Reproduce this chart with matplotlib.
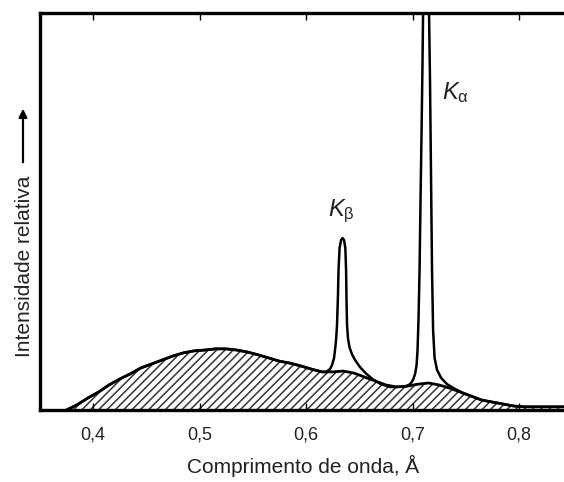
import matplotlib
matplotlib.use("Agg")
import matplotlib.pyplot as plt
from matplotlib.patches import FancyArrowPatch

plt.rcParams['font.family'] = ['Liberation Sans', 'DejaVu Sans']
plt.rcParams['mathtext.fontset'] = 'custom'
plt.rcParams['mathtext.rm'] = 'Liberation Sans'
plt.rcParams['mathtext.it'] = 'Liberation Sans:italic'
plt.rcParams['hatch.linewidth'] = 1.1
plt.rcParams['hatch.color'] = '#333333'

# continuous spectrum (hatched area)
wl_cont = [0.375, 0.385, 0.395, 0.405, 0.415, 0.425, 0.435, 0.445, 0.455, 0.465,
           0.475, 0.485, 0.495, 0.505, 0.515, 0.525, 0.535, 0.545, 0.555, 0.565,
           0.575, 0.585, 0.595, 0.605, 0.615, 0.625, 0.635, 0.645, 0.655, 0.665,
           0.675, 0.685, 0.695, 0.705, 0.715, 0.725, 0.735, 0.745, 0.755, 0.765,
           0.775, 0.785, 0.795, 0.805, 0.845]
int_cont = [0.000, 0.013, 0.030, 0.045, 0.063, 0.078, 0.091, 0.106, 0.116, 0.126,
            0.136, 0.144, 0.149, 0.151, 0.154, 0.154, 0.151, 0.146, 0.139, 0.131,
            0.123, 0.118, 0.111, 0.103, 0.096, 0.096, 0.098, 0.093, 0.083, 0.073,
            0.063, 0.058, 0.060, 0.065, 0.068, 0.063, 0.055, 0.045, 0.035, 0.025,
            0.020, 0.015, 0.010, 0.008, 0.008]

# characteristic lines K-beta and K-alpha on top of the continuum
wl_lines = [0.6188, 0.6225, 0.6244, 0.6263, 0.6272, 0.6282, 0.6291, 0.6300, 0.6305,
            0.6315, 0.6329, 0.6343, 0.6357, 0.6369, 0.6376, 0.6380, 0.6385, 0.6394,
            0.6408, 0.6432, 0.6460, 0.6507, 0.6563, 0.6629, 0.6704, 0.6789,
            0.6836, 0.6901, 0.6939, 0.6977, 0.7005, 0.7024, 0.7038, 0.7047, 0.7056,
            0.7066, 0.7075, 0.7085, 0.7094, 0.7099, 0.7103, 0.7127, 0.7150, 0.7155,
            0.7164, 0.7174, 0.7183, 0.7193, 0.7207, 0.7230, 0.7268, 0.7324, 0.7399,
            0.7474]
int_lines = [0.096, 0.103, 0.113, 0.131, 0.151, 0.176, 0.214, 0.290, 0.353,
             0.408, 0.428, 0.433, 0.428, 0.408, 0.353, 0.277, 0.214, 0.180,
             0.158, 0.140, 0.126, 0.108, 0.092, 0.077, 0.065, 0.058,
             0.058, 0.059, 0.060, 0.065, 0.076, 0.091, 0.113, 0.151, 0.227,
             0.353, 0.529, 0.705, 0.882, 1.000, 1.058, 1.083, 1.058, 1.000,
             0.831, 0.579, 0.353, 0.202, 0.131, 0.101, 0.081, 0.065, 0.053,
             0.043]

xticks = [0.4, 0.5, 0.6, 0.7, 0.8]
xticklabels = ['0,4', '0,5', '0,6', '0,7', '0,8']

# full spectrum = continuum outside the lines + the lines
wl_total = [w for w in wl_cont if w < wl_lines[0]] + wl_lines + \
           [w for w in wl_cont if w > wl_lines[-1]]
int_total = [i for w, i in zip(wl_cont, int_cont) if w < wl_lines[0]] + int_lines + \
            [i for w, i in zip(wl_cont, int_cont) if w > wl_lines[-1]]

fig = plt.figure(figsize=(5.64, 4.82), dpi=100)
ax = fig.add_axes([40/564, 72/482, 526/564, 397/482])

ax.fill_between(wl_cont, int_cont, 0, facecolor='white', edgecolor='#333333',
                hatch='////', linewidth=0)
ax.plot(wl_cont, int_cont, color='black', lw=2.0, solid_joinstyle='round')
ax.plot(wl_total, int_total, color='black', lw=1.8, solid_joinstyle='round')

ax.set_xlim(0.3502, 0.8441)
ax.set_ylim(0, 1)
ax.set_yticks([])
ax.set_xticks(xticks)
ax.set_xticklabels(xticklabels, fontsize=13, color='#222222')
ax.tick_params(axis='x', direction='in', top=True, length=5, width=1, pad=12)
for s in ax.spines.values():
    s.set_linewidth(2.4)
ax.spines['right'].set_visible(False)

ax.set_xlabel('Comprimento de onda, Å', fontsize=15, color='#222222', labelpad=8)
fig.text(25/564, 1 - 266/482, 'Intensidade relativa', rotation=90, fontsize=15,
         color='#222222', ha='center', va='center')
fig.add_artist(FancyArrowPatch(
    (23/564, 1 - 165/482), (23/564, 1 - 106/482), transform=fig.transFigure,
    arrowstyle='-|>', mutation_scale=12, lw=1.6, color='black'))

ax.text(0.633, 0.50, r'$\mathit{K}_{\mathrm{\beta}}$', fontsize=17,
        ha='center', va='center', color='#222222')
ax.text(0.7400, 0.80, r'$\mathit{K}_{\mathrm{\alpha}}$', fontsize=17,
        ha='center', va='center', color='#222222')

fig.savefig('out.png', dpi=100)
